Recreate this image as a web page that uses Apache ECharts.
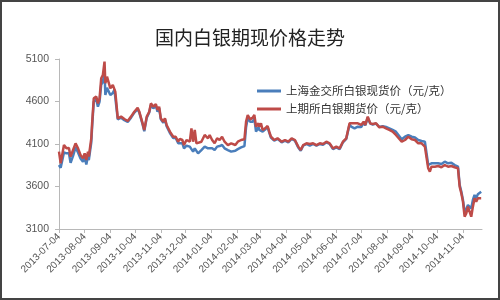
<!DOCTYPE html>
<html>
<head>
<meta charset="utf-8">
<script src="https://cdn.jsdelivr.net/npm/echarts@6/dist/echarts.min.js"></script>
<style>
html,body{margin:0;padding:0;background:#fff;}
#c{width:500px;height:300px;}
</style>
</head>
<body>
<div id="c"></div>
<script>
const titleText = '国内白银期现价格走势';
const seriesNames = ['上海金交所白银现货价（元/克）', '上期所白银期货价（元/克）'];
const startDate = '2013-07-04';
const endDate = '2014-11-27';
const yTicks = [3100, 3600, 4100, 4600, 5100];

const dates = [
'2013-07-04','2013-07-06','2013-07-10','2013-07-13','2013-07-16','2013-07-18','2013-07-21','2013-07-24','2013-07-27','2013-07-30',
'2013-08-02','2013-08-04','2013-08-06','2013-08-08','2013-08-09','2013-08-12','2013-08-13','2013-08-15','2013-08-18','2013-08-20',
'2013-08-22','2013-08-24','2013-08-26','2013-08-28','2013-08-29','2013-08-31','2013-09-02','2013-09-04','2013-09-07','2013-09-09',
'2013-09-10','2013-09-13','2013-09-17','2013-09-21','2013-09-25','2013-09-29','2013-10-03','2013-10-07','2013-10-09','2013-10-13',
'2013-10-15','2013-10-18','2013-10-21','2013-10-23','2013-10-26','2013-10-29','2013-10-31','2013-11-02','2013-11-04','2013-11-07',
'2013-11-09','2013-11-11','2013-11-15','2013-11-17','2013-11-19','2013-11-22','2013-11-25','2013-11-27','2013-11-30','2013-12-02',
'2013-12-05','2013-12-09','2013-12-11','2013-12-13','2013-12-15','2013-12-17','2013-12-19','2013-12-23','2013-12-27','2013-12-31',
'2014-01-02','2014-01-05','2014-01-08','2014-01-11','2014-01-14','2014-01-17','2014-01-20','2014-01-24','2014-01-28','2014-02-02',
'2014-02-05','2014-02-09','2014-02-13','2014-02-15','2014-02-17','2014-02-20','2014-02-23','2014-02-25','2014-02-27','2014-03-02',
'2014-03-03','2014-03-05','2014-03-07','2014-03-10','2014-03-13','2014-03-15','2014-03-17','2014-03-21','2014-03-25','2014-03-30',
'2014-04-03','2014-04-07','2014-04-11','2014-04-15','2014-04-19','2014-04-22','2014-04-25','2014-04-29','2014-05-03','2014-05-07',
'2014-05-11','2014-05-15','2014-05-19','2014-05-23','2014-05-27','2014-05-31','2014-06-04','2014-06-08','2014-06-12','2014-06-14',
'2014-06-16','2014-06-18','2014-06-20','2014-06-22','2014-06-26','2014-06-30','2014-07-04','2014-07-07','2014-07-09','2014-07-12',
'2014-07-15','2014-07-18','2014-07-22','2014-07-26','2014-07-30','2014-08-03','2014-08-07','2014-08-11','2014-08-13','2014-08-15',
'2014-08-17','2014-08-22','2014-08-26','2014-08-30','2014-09-03','2014-09-07','2014-09-11','2014-09-15','2014-09-19','2014-09-21',
'2014-09-23','2014-09-25','2014-09-27','2014-10-01','2014-10-05','2014-10-09','2014-10-13','2014-10-17','2014-10-21','2014-10-25',
'2014-10-29','2014-10-31','2014-11-02','2014-11-04','2014-11-06','2014-11-08','2014-11-10','2014-11-12','2014-11-14','2014-11-16',
'2014-11-18','2014-11-20','2014-11-22','2014-11-24','2014-11-26'
];

const spot = [
3853,3820,4000,3990,3990,3880,3960,4060,4000,3930,
3890,3950,3860,3960,3910,4120,4300,4600,4620,4540,
4600,4800,4830,4950,4676,4760,4760,4676,4700,4740,
4650,4390,4410,4380,4360,4410,4470,4510,4470,4330,
4250,4410,4470,4560,4520,4550,4480,4520,4390,4350,
4390,4310,4230,4230,4170,4170,4108,4130,4110,4049,
4080,4069,4069,4010,4049,4049,3990,4029,4069,4049,
4069,4049,4029,4069,4076,4088,4049,4029,4010,4020,
4040,4060,4076,4300,4402,4363,4363,4400,4245,4300,
4265,4284,4245,4270,4300,4235,4176,4140,4160,4120,
4140,4120,4160,4140,4060,4020,4080,4100,4080,4100,
4080,4100,4090,4120,4100,4040,4060,4040,4120,4100,
4160,4180,4330,4304,4284,4304,4300,4350,4320,4410,
4340,4330,4340,4300,4310,4300,4284,4265,4265,4245,
4230,4155,4186,4206,4186,4176,4147,4135,4127,4135,
3853,3873,3873,3873,3873,3865,3892,3873,3880,3853,
3833,3620,3540,3440,3304,3330,3382,3370,3343,3441,
3500,3461,3510,3520,3539
];

const futures = [
4010,3873,4088,4049,4053,3951,4029,4108,4049,3971,
3931,3990,3912,4010,3951,4167,4343,4637,4657,4578,
4637,4873,4912,5069,4814,4892,4873,4755,4794,4814,
4716,4402,4422,4394,4371,4422,4480,4527,4480,4343,
4265,4422,4480,4578,4539,4570,4500,4539,4402,4363,
4402,4324,4245,4245,4186,4186,4127,4160,4147,4088,
4147,4127,4284,4127,4265,4108,4088,4127,4206,4167,
4206,4147,4108,4167,4147,4186,4127,4088,4108,4088,
4127,4147,4155,4363,4441,4390,4410,4441,4304,4343,
4304,4343,4265,4284,4312,4245,4186,4147,4167,4127,
4147,4127,4167,4147,4069,4029,4088,4108,4100,4108,
4088,4108,4100,4127,4108,4049,4069,4049,4127,4108,
4167,4186,4343,4363,4343,4343,4324,4363,4324,4422,
4343,4335,4343,4296,4304,4284,4265,4245,4245,4206,
4206,4127,4147,4186,4155,4147,4108,4108,4069,4088,
3814,3775,3833,3833,3841,3826,3853,3833,3841,3826,
3814,3598,3520,3422,3245,3284,3363,3343,3245,3363,
3461,3422,3461,3441,3461
];

// build daily category axis
function fmt(d){
  const m = d.getUTCMonth()+1, day = d.getUTCDate();
  return d.getUTCFullYear()+'-'+(m<10?'0':'')+m+'-'+(day<10?'0':'')+day;
}
const cats = [];
for (let t = Date.parse(startDate+'T00:00:00Z'); t <= Date.parse(endDate+'T00:00:00Z'); t += 86400000) {
  cats.push(fmt(new Date(t)));
}
const idx = {};
cats.forEach((c,i)=>{idx[c]=i;});
const spotData = dates.map((d,i)=>[idx[d], spot[i]]);
const futData = dates.map((d,i)=>[idx[d], futures[i]]);
const isTick = (i, v) => v.slice(8) === '04';

const chart = echarts.init(document.getElementById('c'), null, {renderer:'canvas'});
chart.setOption({
  animation: false,
  backgroundColor: '#fff',
  title: {
    text: titleText,
    left: 'center',
    top: 23,
    textStyle: {fontSize: 19, fontWeight: 'normal', color: '#222', fontFamily: 'Noto Sans CJK SC'}
  },
  legend: {
    orient: 'vertical',
    left: 252,
    top: 80,
    itemWidth: 24,
    itemHeight: 3,
    itemGap: 6,
    icon: 'rect',
    textStyle: {fontSize: 11.5, color: '#333', fontFamily: 'Noto Sans CJK SC', height: 12, lineHeight: 12},
    data: seriesNames
  },
  graphic: [{
    type: 'rect',
    shape: {x: 1, y: 1, width: 498, height: 298},
    style: {fill: 'none', stroke: '#444', lineWidth: 2},
    silent: true,
    z: 100
  }],
  grid: {left: 59, right: 18, top: 59, bottom: 71, containLabel: false},
  xAxis: {
    type: 'category',
    data: cats,
    boundaryGap: false,
    axisLine: {lineStyle: {color: '#b8b8b8', width: 1}},
    axisTick: {show: true, interval: isTick, length: 4, lineStyle: {color: '#b8b8b8'}},
    axisLabel: {interval: isTick, rotate: 45, fontSize: 10, color: '#555', margin: 6, fontFamily: 'Liberation Sans'},
    splitLine: {show: false}
  },
  yAxis: {
    type: 'value',
    min: yTicks[0],
    max: yTicks[yTicks.length-1],
    interval: 500,
    axisLine: {show: true, lineStyle: {color: '#b8b8b8', width: 1}},
    axisTick: {show: true, length: 4, lineStyle: {color: '#b8b8b8'}},
    axisLabel: {fontSize: 10.5, color: '#555', margin: 10, fontFamily: 'Liberation Sans', formatter: v => String(v)},
    splitLine: {show: false}
  },
  series: [
    {
      name: seriesNames[0], type: 'line', data: spotData, symbol: 'none',
      lineStyle: {color: '#4A7EBB', width: 2.5}, itemStyle: {color: '#4A7EBB'}
    },
    {
      name: seriesNames[1], type: 'line', data: futData, symbol: 'none',
      lineStyle: {color: '#BE4B48', width: 2.5}, itemStyle: {color: '#BE4B48'}
    }
  ]
});
</script>
</body>
</html>
